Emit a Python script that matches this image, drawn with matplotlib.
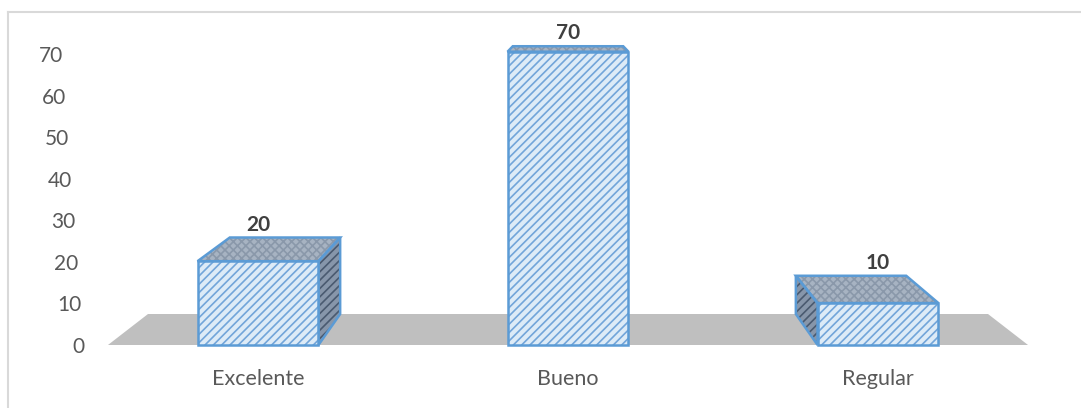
import matplotlib
matplotlib.use("Agg")
import matplotlib.pyplot as plt
from matplotlib.patches import Polygon
from matplotlib.lines import Line2D

# ---- data ----
categories = ["Excelente", "Bueno", "Regular"]
values = [20, 70, 10]
yticks = [0, 10, 20, 30, 40, 50, 60, 70]

plt.rcParams['font.family'] = ['Lato', 'DejaVu Sans']
plt.rcParams['hatch.linewidth'] = 1.2

W, H = 1081, 408
fig = plt.figure(figsize=(W / 100, H / 100), dpi=100)
ax = fig.add_axes([0, 0, 1, 1])
ax.set_axis_off()

# pixel -> data mapping (x: category spacing, y: value units)
X0, XS = 258.0, 310.0
Y0, YS = 345.0, 4.19
ax.set_xlim((0 - X0) / XS, (W - X0) / XS)
ax.set_ylim((Y0 - H) / YS, Y0 / YS)

# perspective: vanishing point and depth scale
VPX, VPY, S = 1.0, 85.0, 0.913


def back(x, y):
    return VPX + S * (x - VPX), VPY + S * (y - VPY)


# floor
fl, fr = -0.484, 2.484
floor = Polygon([(fl, 0), (fr, 0), back(fr, 0), back(fl, 0)], closed=True,
                facecolor='#BFBFBF', edgecolor='none', zorder=1)
ax.add_patch(floor)

xs = list(range(len(categories)))
bw = 0.39
edge = '#5B9BD5'

for x, v in zip(xs, values):
    l, r = x - bw / 2, x + bw / 2
    # side face
    if back(r, 0)[0] > r:
        side = [(r, 0), (r, v), back(r, v), back(r, 0)]
    elif back(l, 0)[0] < l:
        side = [(l, 0), (l, v), back(l, v), back(l, 0)]
    else:
        side = None
    if side is not None:
        ax.add_patch(Polygon(side, closed=True, facecolor='#8796AA',
                             edgecolor='#4A5A70', hatch='////', linewidth=0, zorder=2))
        ax.add_patch(Polygon(side, closed=True, facecolor='none',
                             edgecolor=edge, linewidth=1.8, zorder=2.5))
    # top face
    top = [(l, v), (r, v), back(r, v), back(l, v)]
    ax.add_patch(Polygon(top, closed=True, facecolor='#A7B3C2',
                         edgecolor='#8A98AA', hatch='xxxx', linewidth=0, zorder=2))
    ax.add_patch(Polygon(top, closed=True, facecolor='none',
                         edgecolor=edge, linewidth=1.8, zorder=2.5))

# front faces
ax.bar(xs, values, width=bw, bottom=0, color='#DDEBF7', edgecolor='#72A5D9',
       hatch='////', linewidth=0, zorder=3)
ax.bar(xs, values, width=bw, bottom=0, color='none', edgecolor=edge,
       linewidth=1.8, zorder=3.5)

# data labels
for x, v in zip(xs, values):
    bx, by = back(x, v)
    ax.annotate(str(v), (x, by), xytext=(0, 2), textcoords='offset points',
                ha='center', va='bottom', fontsize=15, fontweight='bold',
                color='#404040', zorder=5)

# value axis labels (slanted along the left wall edge)
for t in yticks:
    xr = (85 - 22 * t / 70 - X0) / XS
    yy = -0.48 + t * 69.45 / 70
    ax.text(xr, yy, str(t), ha='right', va='center', fontsize=15, color='#595959')

# category labels
for x, c in zip(xs, categories):
    ax.text(x, (Y0 - 379) / YS, c, ha='center', va='center', fontsize=15.5,
            color='#595959')

# chart area border (top and left)
fig.add_artist(Line2D([8 / W, 1.0], [1 - 12 / H, 1 - 12 / H], color='#D9D9D9',
                      linewidth=1.5, transform=fig.transFigure))
fig.add_artist(Line2D([8 / W, 8 / W], [0, 1 - 12 / H], color='#D9D9D9',
                      linewidth=1.5, transform=fig.transFigure))

fig.savefig('out.png', dpi=100)
